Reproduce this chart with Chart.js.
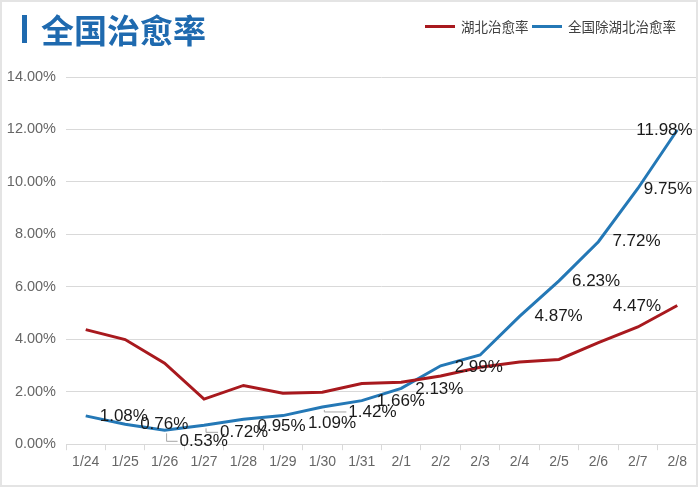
<!DOCTYPE html>
<html>
<head>
<meta charset="utf-8">
<script src="https://cdn.jsdelivr.net/npm/chart.js@4.4.1/dist/chart.umd.min.js"></script>
<style>
    body { margin: 0; background: #fff; }
    #wrap { position: relative; width: 700px; height: 488px; }
    #frame { position: absolute; left: 0; top: 0; width: 698px; height: 487px; box-sizing: border-box;
             border: 2px solid #e4e4e4; pointer-events: none; }
    #title { position: absolute; left: 22px; top: 12px; height: 34px; }
    #title .bar { position: absolute; left: 0; top: 3px; width: 5px; height: 28px; background: #1f6aaf; }
    #title .text { position: absolute; left: 19px; top: -1px; white-space: nowrap; font: bold 33px "Noto Sans CJK SC";
                   line-height: 36px; color: #1f6aaf; }
    #legend { position: absolute; top: 17px; left: 425px; height: 18px; font: 13.5px "Noto Sans CJK SC"; color: #404040; }
    #legend .item { position: absolute; top: 0; white-space: nowrap; line-height: 18px; }
    #legend .line { position: absolute; top: 8px; width: 30px; height: 3px; }
    #legend .label { position: absolute; top: 0; left: 36px; }
</style>
</head>
<body>
<div id="wrap">
    <canvas id="myChart"></canvas>
    <div id="title"><div class="bar"></div><div class="text">全国治愈率</div></div>
    <div id="legend"></div>
    <div id="frame"></div>
</div>
<script>
const categories = ['1/24', '1/25', '1/26', '1/27', '1/28', '1/29', '1/30', '1/31',
    '2/1', '2/2', '2/3', '2/4', '2/5', '2/6', '2/7', '2/8'];
const hubei = [4.37, 3.99, 3.09, 1.72, 2.24, 1.94, 1.98, 2.31, 2.36, 2.60, 2.93, 3.13, 3.23, 3.87, 4.47, 5.29];
const nonHubei = [1.08, 0.76, 0.53, 0.72, 0.95, 1.09, 1.42, 1.66, 2.13, 2.99, 3.40, 4.87, 6.23, 7.72, 9.75, 11.98];
const yTicks = [0, 2, 4, 6, 8, 10, 12, 14];

// 데이터 라벨 위치 (dataset, index, dx, dy, leader)
const labelSpots = [
    [1, 0, 14, 0], [1, 1, 15, 0], [1, 2, 15, 11, true], [1, 3, 16, 7, true],
    [1, 4, 14, 7], [1, 5, 25, 8], [1, 6, 26, 5, true], [1, 7, 15, 1],
    [1, 8, 14, 1], [1, 9, 14, 2], [1, 11, 15, 0], [1, 12, 13, 1],
    [1, 13, 14, 0], [1, 14, 6, 1], [1, 15, -41, 0], [0, 14, -25, -21]
];

const pointLabels = {
    id: 'pointLabels',
    afterDatasetsDraw(chart) {
        const c = chart.ctx;
        c.save();
        c.font = '17px "Liberation Sans", Arial, sans-serif';
        c.textAlign = 'left';
        c.textBaseline = 'middle';
        labelSpots.forEach(([ds, i, dx, dy, leader]) => {
            const pt = chart.getDatasetMeta(ds).data[i];
            const value = chart.data.datasets[ds].data[i];
            const tx = pt.x + dx, ty = pt.y + dy;
            if (leader) {
                c.strokeStyle = '#a6a6a6';
                c.lineWidth = 1;
                c.beginPath();
                c.moveTo(pt.x + 2, pt.y + 3);
                c.lineTo(pt.x + 2, ty);
                c.lineTo(tx - 2, ty);
                c.stroke();
            }
            c.fillStyle = '#1a1a1a';
            c.fillText(value.toFixed(2) + '%', tx, ty);
        });
        c.restore();
    }
};

const ctx = document.getElementById('myChart').getContext('2d');
const myChart = new Chart(ctx, {
    type: 'line',
    data: {
        labels: categories,
        datasets: [{
            label: '湖北治愈率',
            data: hubei,
            borderColor: '#a8191e',
            backgroundColor: '#a8191e',
            borderWidth: 3,
            pointRadius: 0,
            tension: 0
        }, {
            label: '全国除湖北治愈率',
            data: nonHubei,
            borderColor: '#2478b6',
            backgroundColor: '#2478b6',
            borderWidth: 3,
            pointRadius: 0,
            tension: 0
        }]
    },
    options: {
        responsive: true,
        maintainAspectRatio: false,
        animation: false,
        layout: { padding: { left: 7, right: 3, top: 77, bottom: 13 } },
        plugins: {
            legend: { display: false },
            tooltip: { enabled: false }
        },
        scales: {
            x: {
                offset: true,
                grid: { offset: true, drawOnChartArea: false, drawTicks: true, tickLength: 6, color: '#d9d9d9' },
                border: { color: '#d9d9d9' },
                ticks: { color: '#666', padding: 4, maxRotation: 0, autoSkip: false,
                         font: { family: '"Liberation Sans", Arial', size: 14 } }
            },
            y: {
                min: 0,
                max: 14,
                afterBuildTicks: axis => { axis.ticks = yTicks.map(v => ({ value: v })); },
                afterFit: axis => { axis.width = 59; },
                grid: { color: '#d9d9d9', drawTicks: false },
                border: { display: false },
                ticks: { color: '#666', padding: 10,
                         font: { family: '"Liberation Sans", Arial', size: 14.5 },
                         callback: v => v.toFixed(2) + '%' }
            }
        }
    },
    plugins: [pointLabels]
});

// 범례 만들기
const legendBox = document.getElementById('legend');
const legendX = [0, 107];
myChart.data.datasets.forEach((ds, k) => {
    const item = document.createElement('div');
    item.className = 'item';
    item.style.left = legendX[k] + 'px';
    item.innerHTML = `<div class="line" style="background:${ds.borderColor}"></div><div class="label">${ds.label}</div>`;
    legendBox.appendChild(item);
});
</script>
</body>
</html>
